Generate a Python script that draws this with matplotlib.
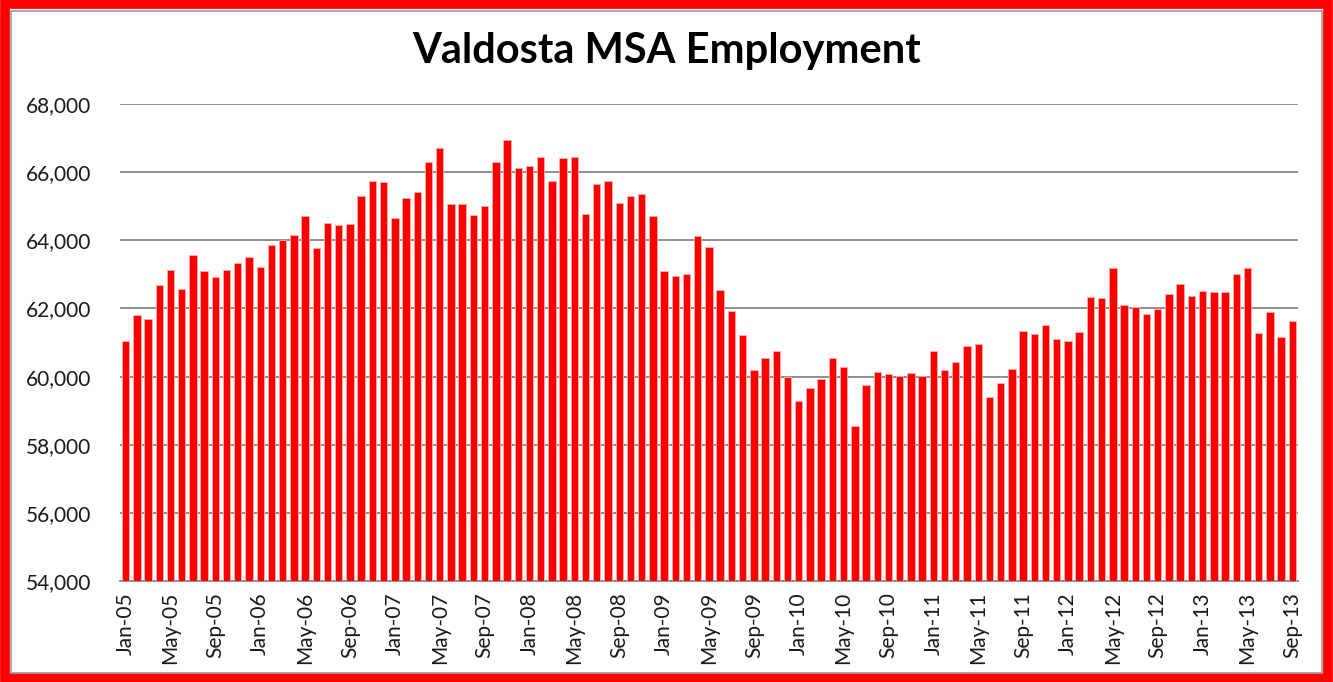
import matplotlib
matplotlib.use("Agg")
import matplotlib.pyplot as plt
from matplotlib.patches import Rectangle
from matplotlib.ticker import FuncFormatter

months = ["Jan", "Feb", "Mar", "Apr", "May", "Jun", "Jul", "Aug", "Sep", "Oct", "Nov", "Dec"]
years = ["05", "06", "07", "08", "09", "10", "11", "12", "13"]
categories = [f"{m}-{y}" for y in years for m in months][:105]

employment = [
    61058, 61810, 61694, 62700, 63140, 62574, 63560, 63110, 62925, 63140, 63335, 63520,
    63210, 63873, 64000, 64157, 64724, 63775, 64510, 64440, 64480, 65300, 65740, 65710,
    64665, 65232, 65419, 66308, 66710, 65067, 65067, 64753, 65008, 66308, 66944, 66123,
    66182, 66436, 65740, 66405, 66436, 64783, 65642, 65740, 65105, 65290, 65360, 64724,
    63110, 62955, 63023, 64128, 63806, 62545, 61937, 61213, 60198, 60550, 60764, 59982,
    59278, 59660, 59943, 60550, 60295, 58544, 59758, 60140, 60070, 60011, 60110, 60011,
    60764, 60198, 60422, 60903, 60960, 59415, 59817, 60237, 61340, 61254, 61527, 61116,
    61058, 61312, 62348, 62319, 63199, 62093, 62035, 61840, 61996, 62416, 62730, 62378,
    62505, 62485, 62485, 63023, 63199, 61272, 61910, 61175, 61625,
]
y_ticks = [54000, 56000, 58000, 60000, 62000, 64000, 66000, 68000]
title = "Valdosta MSA Employment"

plt.rcParams['font.family'] = ['Lato', 'DejaVu Sans']

fig = plt.figure(figsize=(13.33, 6.82), dpi=100)
# outer red frame
fig.patches.append(Rectangle((0.004, 0.006), 0.992, 0.988, transform=fig.transFigure,
                             fill=False, edgecolor="#FF0000", linewidth=7, zorder=0))
fig.patches.append(Rectangle((0.0085, 0.0135), 0.983, 0.9705, transform=fig.transFigure,
                             fill=False, edgecolor="#999999", linewidth=1.2, zorder=0))

ax = fig.add_axes([0.090, 0.148, 0.8837, 0.6994])
x = list(range(len(employment)))
ax.bar(x, employment, width=0.66, color="#FF0000", edgecolor="#FFB0B0", linewidth=0.6, zorder=3)

ax.set_ylim(54000, 68000)
ax.set_xlim(-0.5, len(employment) - 0.5)
ax.set_yticks(y_ticks)
ax.yaxis.set_major_formatter(FuncFormatter(lambda v, p: f"{int(v):,}"))
ax.grid(axis="y", color="#868686", linewidth=1.3, zorder=0)
ax.set_axisbelow(True)

tick_pos = x[::4]
ax.set_xticks(tick_pos)
ax.set_xticklabels([categories[i] for i in tick_pos], rotation=90, fontsize=15, color="#1a1a1a")
ax.tick_params(axis="y", labelsize=15, labelcolor="#1a1a1a", length=0, pad=21)
ax.tick_params(axis="x", length=0, pad=8)

for s in ["top", "right", "left"]:
    ax.spines[s].set_visible(False)
ax.spines["bottom"].set_color("#868686")
ax.spines["bottom"].set_linewidth(1.3)

fig.text(0.5, 0.925, title, ha="center", va="center", fontsize=30, fontweight="bold", color="black")

fig.savefig("out.png", dpi=100)
